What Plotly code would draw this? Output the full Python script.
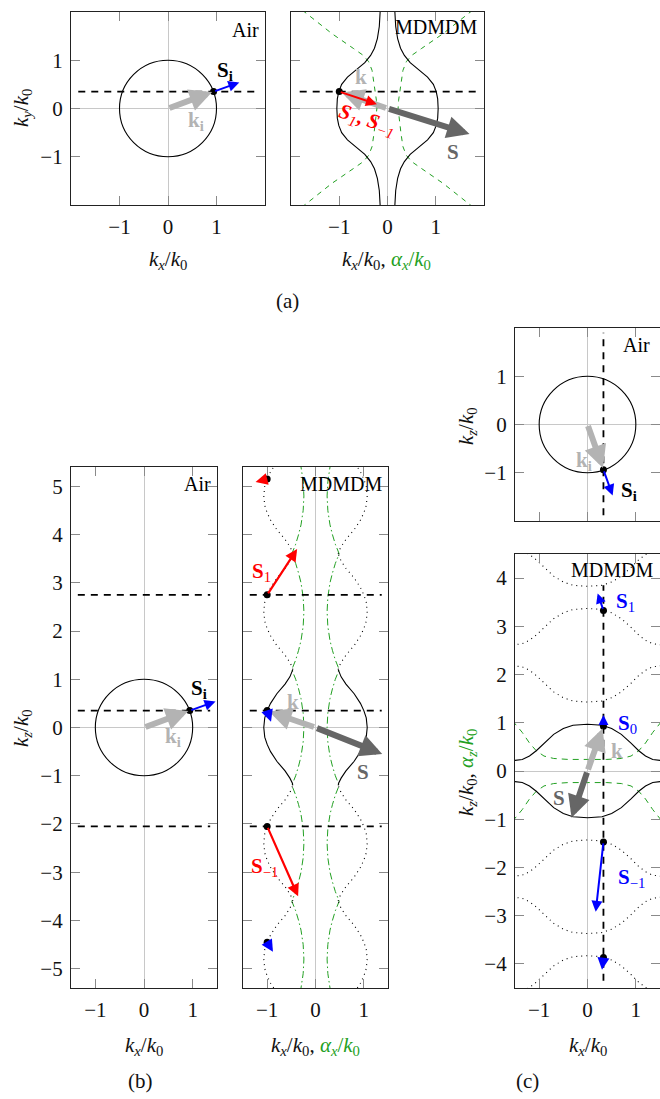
import plotly.graph_objects as go

W, H = 660, 1099

# ------------------------------------------------------------------ data
# grating period in k-space (spacing of the dashed lines / repeated contours)
G = 2.4

# incident point on the air circle (panels a, b): k_x, k_parallel
inc_kx, inc_kpar = 0.94, 0.35
Si_tip = [1.47, 0.54]                     # S_i arrow tip

# (a) MDMDM: iso-frequency contour k_y(k_x), left branch, upper half
a_ky = [0.0, 0.2, 0.35, 0.5, 0.65, 0.8, 0.95, 1.1, 1.25, 1.45, 1.7, 2.05]
a_kx = [-1.05, -1.04, -1.01, -0.95, -0.83, -0.65, -0.47, -0.35, -0.27, -0.21, -0.17, -0.15]
# (a) MDMDM: alpha_x, left branch, upper half
a_al_ky = [0.0, 0.17, 0.52, 0.79, 0.97, 1.10, 1.24, 1.55, 2.05]
a_al_x = [-0.22, -0.23, -0.28, -0.32, -0.39, -0.50, -0.70, -1.15, -1.78]
a_point = [-1.0, 0.35]
a_k_tip = [-0.95, 0.33]
a_S_tip = [1.70, -0.53]
a_S1_tip = [-0.22, 0.09]

# (b) MDMDM: contour k_z(k_x) in first zone, left branch, upper half
b_kz = [0.0, 0.2, 0.35, 0.5, 0.7, 0.9, 1.05, 1.15, 1.2]
b_kx = [-1.07, -1.05, -1.0, -0.93, -0.80, -0.63, -0.53, -0.48, -0.47]
b_al_kz = [0.0, 0.3, 0.6, 0.8, 1.0, 1.2]
b_al_x = [-0.24, -0.255, -0.30, -0.35, -0.41, -0.49]
b_dash_kz = [2.75, 0.35, -2.05]
b_points_kz = [5.15, 2.75, 0.35, -2.05, -4.45]
b_point_kx = -1.0
b_k_tip = [-0.96, 0.33]
b_S_tip = [1.38, -0.55]
b_S1_tip = [-0.38, 3.70]
b_Sm1_tip = [-0.36, -3.50]
b_small_red_tip = [-1.24, 5.09]
b_small_blue_tip = [[-0.92, 0.12], [-0.88, -4.65]]

# (c) air: incident point
c_inc_kx, c_inc_kz = 0.33, -0.94
c_Si_tip = [0.52, -1.47]

# (c) MDMDM: upper contour k_z(k_x), left half
c_kx = [-1.55, -1.5, -1.35, -1.2, -1.06, -0.9, -0.7, -0.5, -0.3, 0.0]
c_kz = [0.22, 0.22, 0.24, 0.31, 0.42, 0.58, 0.76, 0.88, 0.95, 0.97]
c_al_kx = [-1.55, -1.5, -1.35, -1.2, -1.06, -0.9, -0.7, -0.4, 0.0]
c_al_z = [1.05, 0.98, 0.80, 0.58, 0.42, 0.31, 0.26, 0.24, 0.24]
c_points_kz = [3.33, 0.93, -1.47, -3.87]
c_point_kx = 0.33
c_k_tip = [0.31, 0.88]
c_S_tip = [-0.33, -0.97]
c_S1_tip = [0.21, 3.68]
c_S0_tip = [0.33, 1.16]
c_Sm1_tip = [0.17, -2.92]
c_small_tip = [0.30, -4.12]

# ------------------------------------------------------------------ style
FONT = "'Liberation Serif', 'DejaVu Serif', serif"
LG = "#b3b3b3"     # light gray
DG = "#666666"     # dark gray
RED = "#ff0000"
BLUE = "#0000ff"
GREEN = "#22a022"
ZERO = "#c8c8c8"

fig = go.Figure()


def dom_x(p0, p1):
    return [p0 / W, min(p1 / W, 1.0)]


def dom_y(top, bot):
    return [1 - bot / H, 1 - top / H]


panels = {
    # name: (xdomain px, ydomain px, xrange, yrange)
    "": ((71, 265), (12, 205), [-2, 2], [-2, 2]),
    "2": ((291, 484), (12, 205), [-2, 2], [-2, 2]),
    "3": ((71, 217), (467, 988), [-1.5, 1.5], [-5.4, 5.4]),
    "4": ((243, 388), (467, 988), [-1.5, 1.5], [-5.4, 5.4]),
    "5": ((515, 661), (328, 521), [-1.5, 1.5], [-2, 2]),
    "6": ((515, 661), (554, 988), [-1.5, 1.5], [-4.5, 4.5]),
}
ytickvals = {"": [-1, 0, 1], "2": [-1, 0, 1], "3": list(range(-5, 6)),
             "4": list(range(-5, 6)), "5": [-1, 0, 1], "6": list(range(-4, 5))}
show_xlab = {"": True, "2": True, "3": True, "4": True, "5": False, "6": True}
show_ylab = {"": True, "2": False, "3": True, "4": False, "5": True, "6": True}

layout_axes = {}
for k, (xd, yd, xr, yr) in panels.items():
    common = dict(showline=True, linecolor="#222", linewidth=1.2, mirror="ticks",
                  ticks="inside", ticklen=9, tickcolor="#8a8a8a", tickwidth=1.2,
                  showgrid=False, zeroline=True, zerolinecolor=ZERO, zerolinewidth=1.3,
                  tickfont=dict(family=FONT, size=21, color="#111"))
    xd_ = dom_x(*xd)
    layout_axes["xaxis" + k] = dict(common, domain=xd_, range=xr, anchor="y" + (k or ""),
                                    tickvals=[-1, 0, 1], showticklabels=show_xlab[k],
                                    ticklabelstandoff=3)
    layout_axes["yaxis" + k] = dict(common, domain=dom_y(*yd), range=yr, anchor="x" + (k or ""),
                                    tickvals=ytickvals[k], showticklabels=show_ylab[k],
                                    ticklabelstandoff=3)
fig.update_layout(**layout_axes)


def ax(k):
    return "x" + k, "y" + k


def line(k, xs, ys, color="black", width=1.1, dash="solid"):
    xr, yr = ax(k)
    fig.add_trace(go.Scatter(x=xs, y=ys, mode="lines", xaxis=xr, yaxis=yr,
                             line=dict(color=color, width=width, dash=dash),
                             hoverinfo="skip", showlegend=False))


def points(k, xs, ys):
    xr, yr = ax(k)
    fig.add_trace(go.Scatter(x=xs, y=ys, mode="markers", xaxis=xr, yaxis=yr,
                             marker=dict(color="black", size=7),
                             hoverinfo="skip", showlegend=False))


def full_branch(xs, ys):
    """left branch over +/- of second coordinate (mirror)"""
    X = xs[::-1] + xs[1:]
    Y = [-v for v in ys[::-1]] + ys[1:]
    return X, Y


annotations = []
shapes = []


def arrow(k, tail, tip, color, width, size, head=2):
    xr, yr = ax(k)
    annotations.append(dict(x=tip[0], y=tip[1], ax=tail[0], ay=tail[1], xref=xr, yref=yr,
                            axref=xr, ayref=yr, showarrow=True, arrowhead=head,
                            arrowsize=size, arrowwidth=width, arrowcolor=color, text="",
                            standoff=0, startstandoff=0))


def label(k, x, y, text, color="black", size=21, angle=0, xanchor="center"):
    xr, yr = ax(k)
    annotations.append(dict(x=x, y=y, xref=xr, yref=yr, text=text, showarrow=False,
                            font=dict(family=FONT, size=size, color=color),
                            textangle=angle, xanchor=xanchor, yanchor="middle"))


def ptext(px, py, text, size=21, angle=0):
    annotations.append(dict(x=px / W, y=1 - py / H, xref="paper", yref="paper", text=text,
                            showarrow=False, font=dict(family=FONT, size=size, color="#111"),
                            textangle=angle, xanchor="center", yanchor="middle"))


def circle(k):
    xr, yr = ax(k)
    shapes.append(dict(type="circle", xref=xr, yref=yr, x0=-1, y0=-1, x1=1, y1=1,
                       line=dict(color="black", width=1.1), layer="between"))


DASH_BLACK = "7px,6px"

# ---------------- (a) left: air
k = ""
circle(k)
line(k, [-1.85, 1.85], [inc_kpar, inc_kpar], width=1.8, dash=DASH_BLACK)
arrow(k, [0, 0], [inc_kx - 0.03, inc_kpar - 0.01], LG, 6, 0.75)
arrow(k, [inc_kx, inc_kpar], Si_tip, BLUE, 2, 1.1)
points(k, [inc_kx], [inc_kpar])
label(k, 1.17, 0.78, "<b>S</b><sub><b>i</b></sub>")
label(k, 0.57, -0.25, "<b>k</b><sub><b>i</b></sub>", color=LG)
label(k, 1.92, 1.62, "Air", xanchor="right", size=20)

# ---------------- (a) right: MDMDM
k = "2"
X, Y = full_branch(a_al_x, a_al_ky)
line(k, X, Y, GREEN, 1.0, "5px,5px")
line(k, [-v for v in X], Y, GREEN, 1.0, "5px,5px")
X, Y = full_branch(a_kx, a_ky)
line(k, X, Y)
line(k, [-v for v in X], Y)
line(k, [-1.82, 1.92], [a_point[1], a_point[1]], width=1.8, dash=DASH_BLACK)
arrow(k, [0, 0], a_S_tip, DG, 6, 0.75)
arrow(k, [0, 0], a_k_tip, LG, 6, 0.75)
arrow(k, a_point, a_S1_tip, RED, 2, 1.1)
points(k, [a_point[0]], [a_point[1]])
label(k, -0.55, 0.65, "<b>k</b>", color=LG)
label(k, 1.35, -0.9, "<b>S</b>", color=DG)
label(k, -0.43, -0.24, "<b><i>S</i></b><sub><i>1</i></sub><b>,</b> <b><i>S</i></b><sub><i>−1</i></sub>",
      color=RED, angle=18)
label(k, 1.9, 1.68, "MDMDM", xanchor="right", size=20)

# ---------------- (b) left: air
k = "3"
circle(k)
for z in b_dash_kz:
    line(k, [-1.36, 1.36], [z, z], width=1.8, dash=DASH_BLACK)
arrow(k, [0, 0], [inc_kx - 0.03, inc_kpar - 0.01], LG, 6, 0.75)
arrow(k, [inc_kx, inc_kpar], Si_tip, BLUE, 2, 1.1)
points(k, [inc_kx], [inc_kpar])
label(k, 1.14, 0.80, "<b>S</b><sub><b>i</b></sub>")
label(k, 0.6, -0.2, "<b>k</b><sub><b>i</b></sub>", color=LG)
label(k, 1.42, 5.05, "Air", xanchor="right", size=20)

# ---------------- (b) right: MDMDM
k = "4"
GX, GY = [], []
for n in range(-3, 4):
    X, Y = full_branch(b_al_x, b_al_kz)
    GX += X
    GY += [v + n * G for v in Y]
line(k, GX, GY, GREEN, 1.0, "7px,3px,1.5px,3px")
line(k, [-v for v in GX], GY, GREEN, 1.0, "7px,3px,1.5px,3px")
for n in range(-2, 3):
    X, Y = full_branch(b_kx, b_kz)
    Ys = [v + n * G for v in Y]
    dash = "solid" if n == 0 else "1px,4px"
    line(k, X, Ys, dash=dash)
    line(k, [-v for v in X], Ys, dash=dash)
for z in b_dash_kz:
    line(k, [-1.36, 1.37], [z, z], width=1.8, dash=DASH_BLACK)
arrow(k, [0, 0], b_S_tip, DG, 6, 0.75)
arrow(k, [0, 0], b_k_tip, LG, 6, 0.75)
arrow(k, [b_point_kx, b_dash_kz[0]], b_S1_tip, RED, 2.2, 1.1)
arrow(k, [b_point_kx, b_dash_kz[2]], b_Sm1_tip, RED, 2.2, 1.1)
arrow(k, [b_point_kx, b_points_kz[0]], b_small_red_tip, RED, 2, 1.2)
arrow(k, [b_point_kx, b_points_kz[2]], b_small_blue_tip[0], BLUE, 2, 1.2)
arrow(k, [b_point_kx, b_points_kz[4]], b_small_blue_tip[1], BLUE, 2, 1.2)
points(k, [b_point_kx] * len(b_points_kz), b_points_kz)
label(k, -1.11, 3.22, "<b>S</b><sub>1</sub>", color=RED)
label(k, -1.06, -2.9, "<b>S</b><sub>−1</sub>", color=RED)
label(k, -0.47, 0.52, "<b>k</b>", color=LG)
label(k, 0.99, -0.92, "<b>S</b>", color=DG)
label(k, 1.42, 5.05, "MDMDM", xanchor="right", size=20)

# ---------------- (c) top: air
k = "5"
circle(k)
line(k, [c_inc_kx, c_inc_kx], [-1.88, 1.9], width=1.8, dash=DASH_BLACK)
arrow(k, [0, 0], [c_inc_kx - 0.01, c_inc_kz + 0.04], LG, 6, 0.75)
arrow(k, [c_inc_kx, c_inc_kz], c_Si_tip, BLUE, 2, 1.1)
points(k, [c_inc_kx], [c_inc_kz])
label(k, -0.07, -0.76, "<b>k</b><sub><b>i</b></sub>", color=LG)
label(k, 0.86, -1.38, "<b>S</b><sub><b>i</b></sub>")
label(k, 1.34, 1.65, "Air", xanchor="right", size=20)

# ---------------- (c) bottom: MDMDM
k = "6"
CX = c_kx + [-v for v in c_kx[::-1][1:]]
CZ = c_kz + c_kz[::-1][1:]
AX = c_al_kx + [-v for v in c_al_kx[::-1][1:]]
AZ = c_al_z + c_al_z[::-1][1:]
line(k, AX, AZ, GREEN, 1.0, "6px,5px")
line(k, AX, [-v for v in AZ], GREEN, 1.0, "6px,5px")
for n in range(-2, 3):
    dash = "solid" if n == 0 else "1px,4px"
    line(k, CX, [v + n * G for v in CZ], dash=dash)
    line(k, CX, [-v + n * G for v in CZ], dash=dash)
line(k, [c_point_kx, c_point_kx], [-4.35, 3.85], width=1.8, dash=DASH_BLACK)
arrow(k, [0, 0], c_k_tip, LG, 6, 0.75)
arrow(k, [0, 0], c_S_tip, DG, 6, 0.75)
arrow(k, [c_point_kx, c_points_kz[0]], c_S1_tip, BLUE, 2, 1.0)
arrow(k, [c_point_kx, c_points_kz[1]], c_S0_tip, BLUE, 2, 1.0)
arrow(k, [c_point_kx, c_points_kz[2]], c_Sm1_tip, BLUE, 2, 1.1)
arrow(k, [c_point_kx, c_points_kz[3]], c_small_tip, BLUE, 2, 1.2)
points(k, [c_point_kx] * len(c_points_kz), c_points_kz)
label(k, 0.78, 3.5, "<b>S</b><sub>1</sub>", color=BLUE)
label(k, 0.82, 0.97, "<b>S</b><sub>0</sub>", color=BLUE)
label(k, 0.9, -2.22, "<b>S</b><sub>−1</sub>", color=BLUE)
label(k, 0.6, 0.42, "<b>k</b>", color=LG)
label(k, -0.6, -0.56, "<b>S</b>", color=DG)
label(k, 1.4, 4.17, "MDMDM", xanchor="right", size=20)

# ---------------- axis titles and panel captions
kx = "<i>k</i><sub><i>x</i></sub>/<i>k</i><sub>0</sub>"
ky = "<i>k</i><sub><i>y</i></sub>/<i>k</i><sub>0</sub>"
kz = "<i>k</i><sub><i>z</i></sub>/<i>k</i><sub>0</sub>"
ax_g = f"<span style='color:{GREEN}'><i>α</i><sub><i>x</i></sub>/<i>k</i><sub>0</sub></span>"
az_g = f"<span style='color:{GREEN}'><i>α</i><sub><i>z</i></sub>/<i>k</i><sub>0</sub></span>"

ptext(22, 108, ky, angle=-90)
ptext(168, 260, kx)
ptext(387, 260, kx + ", " + ax_g)
ptext(287, 301, "(a)")
ptext(22, 728, kz, angle=-90)
ptext(144, 1046, kx)
ptext(315, 1046, kx + ", " + ax_g)
ptext(140, 1081, "(b)")
ptext(467, 426, kz, angle=-90)
ptext(467, 772, kz + ", " + az_g, angle=-90)
ptext(588, 1046, kx)
ptext(527, 1081, "(c)")

fig.update_layout(width=W, height=H, margin=dict(l=0, r=0, t=0, b=0),
                  paper_bgcolor="white", plot_bgcolor="white",
                  annotations=annotations, shapes=shapes, showlegend=False)

fig.write_html("out.html")
